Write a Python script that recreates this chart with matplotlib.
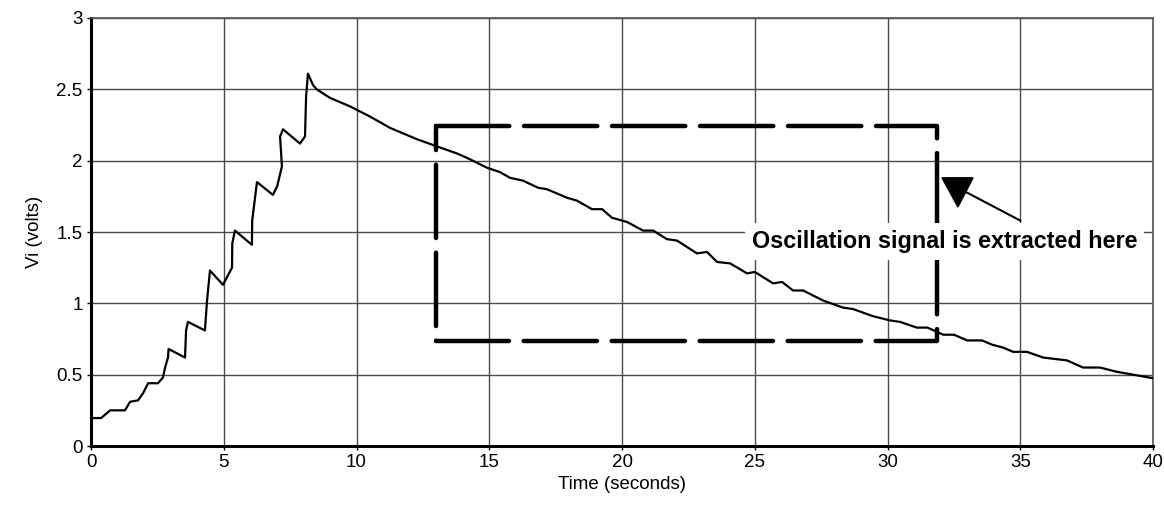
import matplotlib
matplotlib.use("Agg")
import matplotlib.pyplot as plt
from matplotlib.patches import Polygon

# ---- data ----
time_s = [0.00, 0.38, 0.72, 1.28, 1.47, 1.77, 1.96, 2.15, 2.52, 2.71, 2.79, 2.90, 2.92,
          3.54, 3.58, 3.65, 4.29, 4.37, 4.48, 4.97, 5.31, 5.32, 5.42, 6.06, 6.07, 6.25,
          6.85, 7.01, 7.19, 7.12, 7.23, 7.87, 8.06, 8.10, 8.17, 8.36, 8.50, 9.00, 9.76,
          10.50, 11.26, 12.28, 13.03, 13.79, 14.27, 14.92, 15.40, 15.78, 16.27, 16.84,
          17.17, 17.93, 18.30, 18.87, 19.25, 19.62, 20.19, 20.79, 21.17, 21.69, 22.07,
          22.82, 23.20, 23.58, 24.07, 24.71, 25.00, 25.69, 26.03, 26.44, 26.82, 27.57,
          28.32, 28.70, 29.45, 30.10, 30.47, 31.10, 31.50, 32.10, 32.50, 33.00, 33.56,
          33.94, 34.35, 34.73, 35.25, 35.86, 36.76, 37.36, 38.00, 38.64, 39.25, 40.00]
vi_volts = [0.196, 0.196, 0.25, 0.25, 0.31, 0.32, 0.37, 0.44, 0.44, 0.48, 0.55, 0.62, 0.68,
            0.62, 0.81, 0.87, 0.81, 1.02, 1.23, 1.13, 1.25, 1.42, 1.51, 1.41, 1.58, 1.85,
            1.76, 1.82, 1.96, 2.17, 2.22, 2.12, 2.17, 2.45, 2.61, 2.53, 2.50, 2.44, 2.38,
            2.31, 2.23, 2.15, 2.10, 2.05, 2.01, 1.95, 1.92, 1.88, 1.86, 1.81,
            1.80, 1.74, 1.72, 1.66, 1.66, 1.60, 1.57, 1.51, 1.51, 1.45, 1.44,
            1.35, 1.36, 1.29, 1.28, 1.21, 1.22, 1.14, 1.15, 1.09, 1.09, 1.02,
            0.97, 0.96, 0.91, 0.88, 0.87, 0.83, 0.83, 0.78, 0.78, 0.74, 0.74,
            0.71, 0.69, 0.66, 0.66, 0.62, 0.60, 0.55, 0.55, 0.52, 0.50, 0.475]

box_x = [13.0, 31.85]          # dashed region, seconds
box_y = [0.735, 2.245]         # dashed region, volts
arrow_tail = (35.0, 1.58)
arrow_tip = (32.85, 1.79)
arrow_head = [(32.05, 1.88), (33.22, 1.88), (32.65, 1.675)]
note_text = "Oscillation signal is extracted here"
note_pos = (32.15, 1.43)

x_ticks = [0, 5, 10, 15, 20, 25, 30, 35, 40]
y_ticks = [0, 0.5, 1, 1.5, 2, 2.5, 3]
y_tick_labels = ["0", "0.5", "1", "1.5", "2", "2.5", "3"]

fam = ["Liberation Sans", "DejaVu Sans"]

fig = plt.figure(figsize=(11.64, 5.07), dpi=100)
ax = fig.add_axes([0.0782, 0.1203, 0.9124, 0.8442])

ax.set_xlim(0, 40)
ax.set_ylim(0, 3)
ax.set_xticks(x_ticks)
ax.set_xticklabels([str(t) for t in x_ticks])
ax.set_yticks(y_ticks)
ax.set_yticklabels(y_tick_labels)
for lab in ax.get_xticklabels() + ax.get_yticklabels():
    lab.set_family(fam)
    lab.set_fontsize(13.5)
ax.tick_params(length=3, width=1, color="black", pad=3)

ax.grid(True, color="#4a4a4a", linewidth=1.0)
ax.set_axisbelow(True)
for side in ["top", "right"]:
    ax.spines[side].set_color("#555555")
    ax.spines[side].set_linewidth(1.2)
for side in ["left", "bottom"]:
    ax.spines[side].set_color("black")
    ax.spines[side].set_linewidth(2.2)

ax.set_xlabel("Time (seconds)", family=fam, fontsize=13.5, labelpad=3)
ax.set_ylabel("Vi (volts)", family=fam, fontsize=13.5, labelpad=10)

ax.plot(time_s, vi_volts, color="black", linewidth=1.6, zorder=3)

# dashed rectangle
bx = [box_x[0], box_x[1], box_x[1], box_x[0], box_x[0]]
by = [box_y[1], box_y[1], box_y[0], box_y[0], box_y[1]]
ax.plot(bx, by, color="black", linewidth=3.2, solid_capstyle="round",
        dash_capstyle="round", linestyle=(0, (16.5, 3.3)), zorder=4)

# arrow
ax.plot([arrow_tail[0], arrow_tip[0]], [arrow_tail[1], arrow_tip[1]],
        color="black", linewidth=1.5, zorder=5)
ax.add_patch(Polygon(arrow_head, closed=True, facecolor="black",
                     edgecolor="black", zorder=5))

ax.text(note_pos[0], note_pos[1], note_text, ha="center", va="center",
        fontsize=16.8, fontweight="bold", family=fam, zorder=6,
        bbox=dict(boxstyle="square,pad=0.3", facecolor="white", edgecolor="none"))

fig.savefig("out.png", dpi=100)
